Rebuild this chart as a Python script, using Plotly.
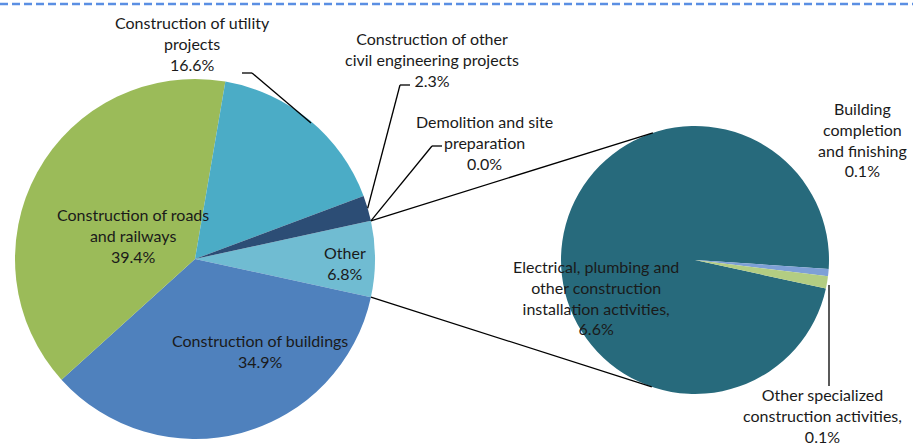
import math
import plotly.graph_objects as go

# ---------------- data ----------------
main_labels = ["Other", "Construction of buildings", "Construction of roads and railways",
               "Construction of utility projects", "Construction of other civil engineering projects",
               "Demolition and site preparation"]
main_values = [6.8, 34.9, 39.4, 16.6, 2.3, 0.0]
main_text = ["Other", "Construction of buildings", "Construction of roads<br>and railways",
             "Construction of utility<br>projects", "Construction of other<br>civil engineering projects",
             "Demolition and site<br>preparation"]

sub_labels = ["Electrical, plumbing and other construction installation activities",
              "Building completion and finishing",
              "Other specialized construction activities"]
sub_values = [6.6, 0.06, 0.1]
sub_text = ["Electrical, plumbing and<br>other construction<br>installation activities,",
            "Building<br>completion<br>and finishing",
            "Other specialized<br>construction activities,"]

main_colors = ["#70BCD2", "#4F81BD", "#9BBB59", "#4BACC6", "#2C4D75", "#8064A2"]
sub_colors = ["#276A7C", "#7EA0D6", "#B3CD82"]

# ---------------- geometry (pixels) ----------------
W, H = 913, 447
LCX, LCY, LR = 195, 259, 180
RCX, RCY, RR = 695, 260, 134


def px(x):
    return x / W


def py(y):
    return 1 - y / H


total_main = sum(main_values)
other_half = 360 * main_values[0] / total_main / 2
main_rot = 90 - other_half

total_sub = sum(sub_values)
sub_rot = 90 + 3.8 + 360 * (sub_values[1] + sub_values[2]) / total_sub

FONT = dict(family="Lato, Open Sans, sans-serif", size=16, color="#1a1a1a")

fig = go.Figure()
fig.add_trace(go.Pie(
    labels=main_labels, values=main_values, sort=False, direction="clockwise",
    rotation=main_rot, marker=dict(colors=main_colors, line=dict(width=0)),
    textinfo="none", hoverinfo="label+percent",
    domain=dict(x=[px(LCX - LR), px(LCX + LR)], y=[py(LCY + LR), py(LCY - LR)]),
))
fig.add_trace(go.Pie(
    labels=sub_labels, values=sub_values, sort=False, direction="clockwise",
    rotation=sub_rot, marker=dict(colors=sub_colors, line=dict(width=0)),
    textinfo="none", hoverinfo="label+value",
    domain=dict(x=[px(RCX - RR), px(RCX + RR)], y=[py(RCY + RR), py(RCY - RR)]),
))


def lpt(clock_deg, r=LR, cx=LCX, cy=LCY):
    a = math.radians(clock_deg)
    return cx + r * math.sin(a), cy - r * math.cos(a)


shapes = []


def seg(p0, p1, color="black", width=1.3):
    shapes.append(dict(type="line", xref="paper", yref="paper",
                       x0=px(p0[0]), y0=py(p0[1]), x1=px(p1[0]), y1=py(p1[1]),
                       line=dict(color=color, width=width)))


# top dashed line
shapes.append(dict(type="line", xref="paper", yref="paper", x0=0, x1=1, y0=py(4), y1=py(4),
                   line=dict(color="#5B8FE3", width=2.5, dash="8px,4px")))

# connector lines between pies
top_l = lpt(90 - other_half)
bot_l = lpt(90 + other_half)
seg(top_l, lpt(-18.3, RR, RCX, RCY))
seg(bot_l, lpt(180 + 18.8, RR, RCX, RCY))

# leader lines
seg((242, 73), (252, 73))
seg((252, 73), (311, 123))
civil_mid = lpt(90 - other_half - 180 * main_values[4] / total_main)
seg((410, 85), (400, 85))
seg((400, 85), civil_mid)
seg((442, 146), (432, 146))
seg((432, 146), top_l)
seg((829, 285), (829, 386))

# annotations (label + value)
main_pos = [(345, 263), (260, 351), (133, 235), (192, 43), (432, 59), (485, 142)]
sub_pos = [(596, 297), (862, 139), (822, 415)]

ann = []
for t, v, (x, y) in zip(main_text, main_values, main_pos):
    ann.append(dict(text=f"{t}<br>{v:.1f}%", x=px(x), y=py(y), xref="paper", yref="paper",
                    xanchor="center", yanchor="middle", showarrow=False, font=FONT, align="center"))
for t, v, (x, y) in zip(sub_text, sub_values, sub_pos):
    ann.append(dict(text=f"{t}<br>{v:.1f}%", x=px(x), y=py(y), xref="paper", yref="paper",
                    xanchor="center", yanchor="middle", showarrow=False, font=FONT, align="center"))

fig.update_layout(width=W, height=H, margin=dict(l=0, r=0, t=0, b=0),
                  paper_bgcolor="white", plot_bgcolor="white", showlegend=False,
                  shapes=shapes, annotations=ann, font=FONT)

fig.write_html("out.html", config={"displayModeBar": False},
               post_script="document.body.style.margin='0';document.body.style.overflow='hidden';")
